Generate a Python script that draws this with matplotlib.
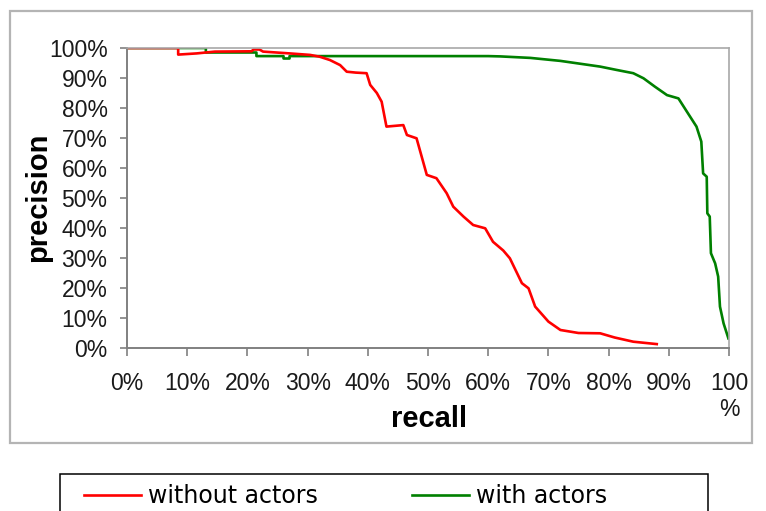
"""Precision / recall curves with and without actors"""
import matplotlib
matplotlib.use('Agg')
import matplotlib.pyplot as plt
from matplotlib.patches import Rectangle
from matplotlib.ticker import FuncFormatter

# precision-recall without actors (red)
recall_no = [0, 8.5, 8.5, 11.6, 14.6, 20.7, 21, 22, 22.6, 27, 30.4, 32, 33.7, 35.4,
             36.5, 38, 39.8, 40.4, 41.5, 42.3, 43.1, 45.9, 46.5, 48.1, 49.8, 51.4,
             53.1, 54.2, 55.9, 57.5, 59.5, 60.8, 62.5, 63.6, 65.6, 66.7, 67.8, 70,
             72, 75, 78.6, 81, 84.1, 88]
prec_no = [100, 100, 97.8, 98.2, 98.8, 98.9, 99.5, 99.5, 98.8, 98.2, 97.7, 97.1, 96, 94.3,
           92.1, 91.8, 91.6, 87.7, 85, 82.1, 73.8, 74.3, 71, 69.9, 57.7, 56.6,
           51.6, 47.1, 43.8, 41, 39.9, 35.4, 32.5, 29.9, 21.6, 19.9, 13.8, 8.8,
           6, 5, 4.9, 3.5, 2.1, 1.3]

# precision-recall with actors (green)
recall_with = [0, 13.1, 13.1, 21.5, 21.5, 26, 26, 27, 27, 60, 62, 67, 72, 78.6, 81.3,
               84.1, 85.8, 87.7, 89.7, 91.6, 93, 94.6, 95.4, 95.7, 96.3, 96.4, 96.8,
               97, 97.7, 98.2, 98.5, 99.1, 99.9]
prec_with = [100, 100, 98.5, 98.5, 97.3, 97.3, 96.5, 96.5, 97.3, 97.3, 97.2, 96.7, 95.7,
             93.8, 92.7, 91.6, 89.9, 87.1, 84.3, 83.2, 78.8, 73.8, 68.8, 58.2, 57.1,
             44.9, 43.8, 31.6, 28.2, 23.8, 13.8, 8.2, 3.2]

ticks = list(range(0, 101, 10))
x_labels = ['%d%%' % t for t in ticks[:-1]] + ['100\n%']

W, H = 766, 511
fig = plt.figure(figsize=(W / 100, H / 100), dpi=100)
ax = fig.add_axes([127 / W, 1 - 348 / H, 602 / W, 300 / H])

l_with, = ax.plot(recall_with, prec_with, color='#008000', lw=1.9, label='with actors')
l_no, = ax.plot(recall_no, prec_no, color='#ff0000', lw=1.9, label='without actors')

ax.set_xlim(0, 100)
ax.set_ylim(0, 100)
ax.set_xticks(ticks)
ax.set_xticklabels(x_labels)
ax.set_yticks(ticks)
ax.yaxis.set_major_formatter(FuncFormatter(lambda v, p: '%d%%' % v))

for lab in ax.get_xticklabels() + ax.get_yticklabels():
    lab.set_fontfamily(['Liberation Sans', 'DejaVu Sans'])
    lab.set_fontsize(16.5)
    lab.set_color('#1a1a1a')
ax.tick_params(axis='x', length=6, width=1.2, color='#808080', pad=11)
ax.tick_params(axis='y', length=5, width=1.2, color='#808080', pad=9)

for s in ['left', 'bottom']:
    ax.spines[s].set_color('#808080')
    ax.spines[s].set_linewidth(1.4)
for s in ['top', 'right']:
    ax.spines[s].set_color('#a8a8a8')
    ax.spines[s].set_linewidth(1.2)

ax.set_xlabel('recall', fontsize=21, fontweight='bold', family=['Liberation Sans', 'DejaVu Sans'])
ax.set_ylabel('precision', fontsize=21, fontweight='bold', family=['Liberation Sans', 'DejaVu Sans'])
ax.xaxis.set_label_coords(0.502, -0.19)
ax.yaxis.set_label_coords(-0.124, 0.503)

# outer chart border
fig.patches.append(Rectangle((10 / W, 1 - 443 / H), 742 / W, 432 / H, transform=fig.transFigure,
                             fill=False, edgecolor='#b4b4b4', lw=1.6))
# legend frame, cut off at the bottom
fig.patches.append(Rectangle((60 / W, -0.05), 648 / W, 1 - 474 / H + 0.05, transform=fig.transFigure,
                             fill=False, edgecolor='black', lw=1.1))

fig.legend(handles=[l_no, l_with], loc='center left', bbox_to_anchor=(84 / W, 1 - 496 / H),
           ncol=2, frameon=False, borderpad=0, borderaxespad=0,
           prop={'family': 'DejaVu Sans', 'size': 17},
           handlelength=2.4, handletextpad=0.3, columnspacing=4.0)

plt.savefig('out.png', dpi=100)
plt.close()
